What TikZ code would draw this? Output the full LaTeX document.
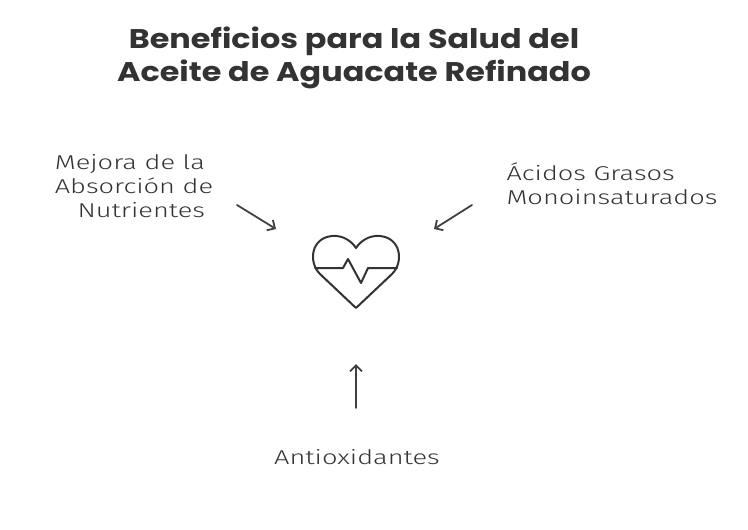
\documentclass[tikz,border=0pt]{standalone}
\usepackage{fontspec}
\setmainfont{Fira Sans}
\newfontfamily\titlefont{Poppins}
\newfontfamily\lblfont{Fira Sans Light}
\usetikzlibrary{arrows.meta}
\newcommand{\wl}[1]{\scalebox{1.36}[1]{#1}}
\newcommand{\wt}[1]{\scalebox{1.18}[1]{#1}}
\begin{document}
\begin{tikzpicture}[x=1pt,y=-1pt,
  lbl/.style={font=\lblfont\fontsize{20}{24}\selectfont, text=black!80},
  arr/.style={draw=black!75, line width=1.8pt, ->, >={Straight Barb[length=6pt,width=12pt]}, line cap=round},
  ttl/.style={font=\titlefont\bfseries\fontsize{27}{33}\selectfont, text=black!80, align=center}]
\useasboundingbox (0,0) rectangle (748,530);
\node[ttl] (title) at (354,58) {\wt{Beneficios para la Salud del}\\\wt{Aceite de Aguacate Refinado}};
\node[lbl,align=left] (l1) at (134,186) {\wl{Mejora de la}\\\wl{Absorción de}\\\wl{\ \ \ Nutrientes}};
\node[lbl,align=left] (l2) at (612,184) {\wl{Ácidos Grasos}\\\wl{Monoinsaturados}};
\node[lbl] (l3) at (357,457) {\wl{Antioxidantes}};
\coordinate (h) at (356,270);
\coordinate (a1s) at (237,205); \coordinate (a1e) at (276,229);
\coordinate (a2s) at (472,205); \coordinate (a2e) at (434,229);
\coordinate (a3s) at (356,408); \coordinate (a3e) at (356,364);
\draw[arr] (a1s) -- (a1e);
\draw[arr] (a2s) -- (a2e);
\draw[arr] (a3s) -- (a3e);
\begin{scope}[shift={(h)}, draw=black!80, line width=2pt, line join=round, line cap=round]
\draw (0,38) -- (-36,4) .. controls (-48,-8) and (-45,-32) .. (-24,-34) .. controls (-12,-35) and (-4,-28) .. (0,-22) .. controls (4,-28) and (12,-35) .. (24,-34) .. controls (45,-32) and (48,-8) .. (36,4) -- cycle;
\draw (-41,-2) -- (-13,-2) -- (-8,-11) -- (5,13) -- (12,-2) -- (41,-2);
\end{scope}
\end{tikzpicture}
\end{document}
